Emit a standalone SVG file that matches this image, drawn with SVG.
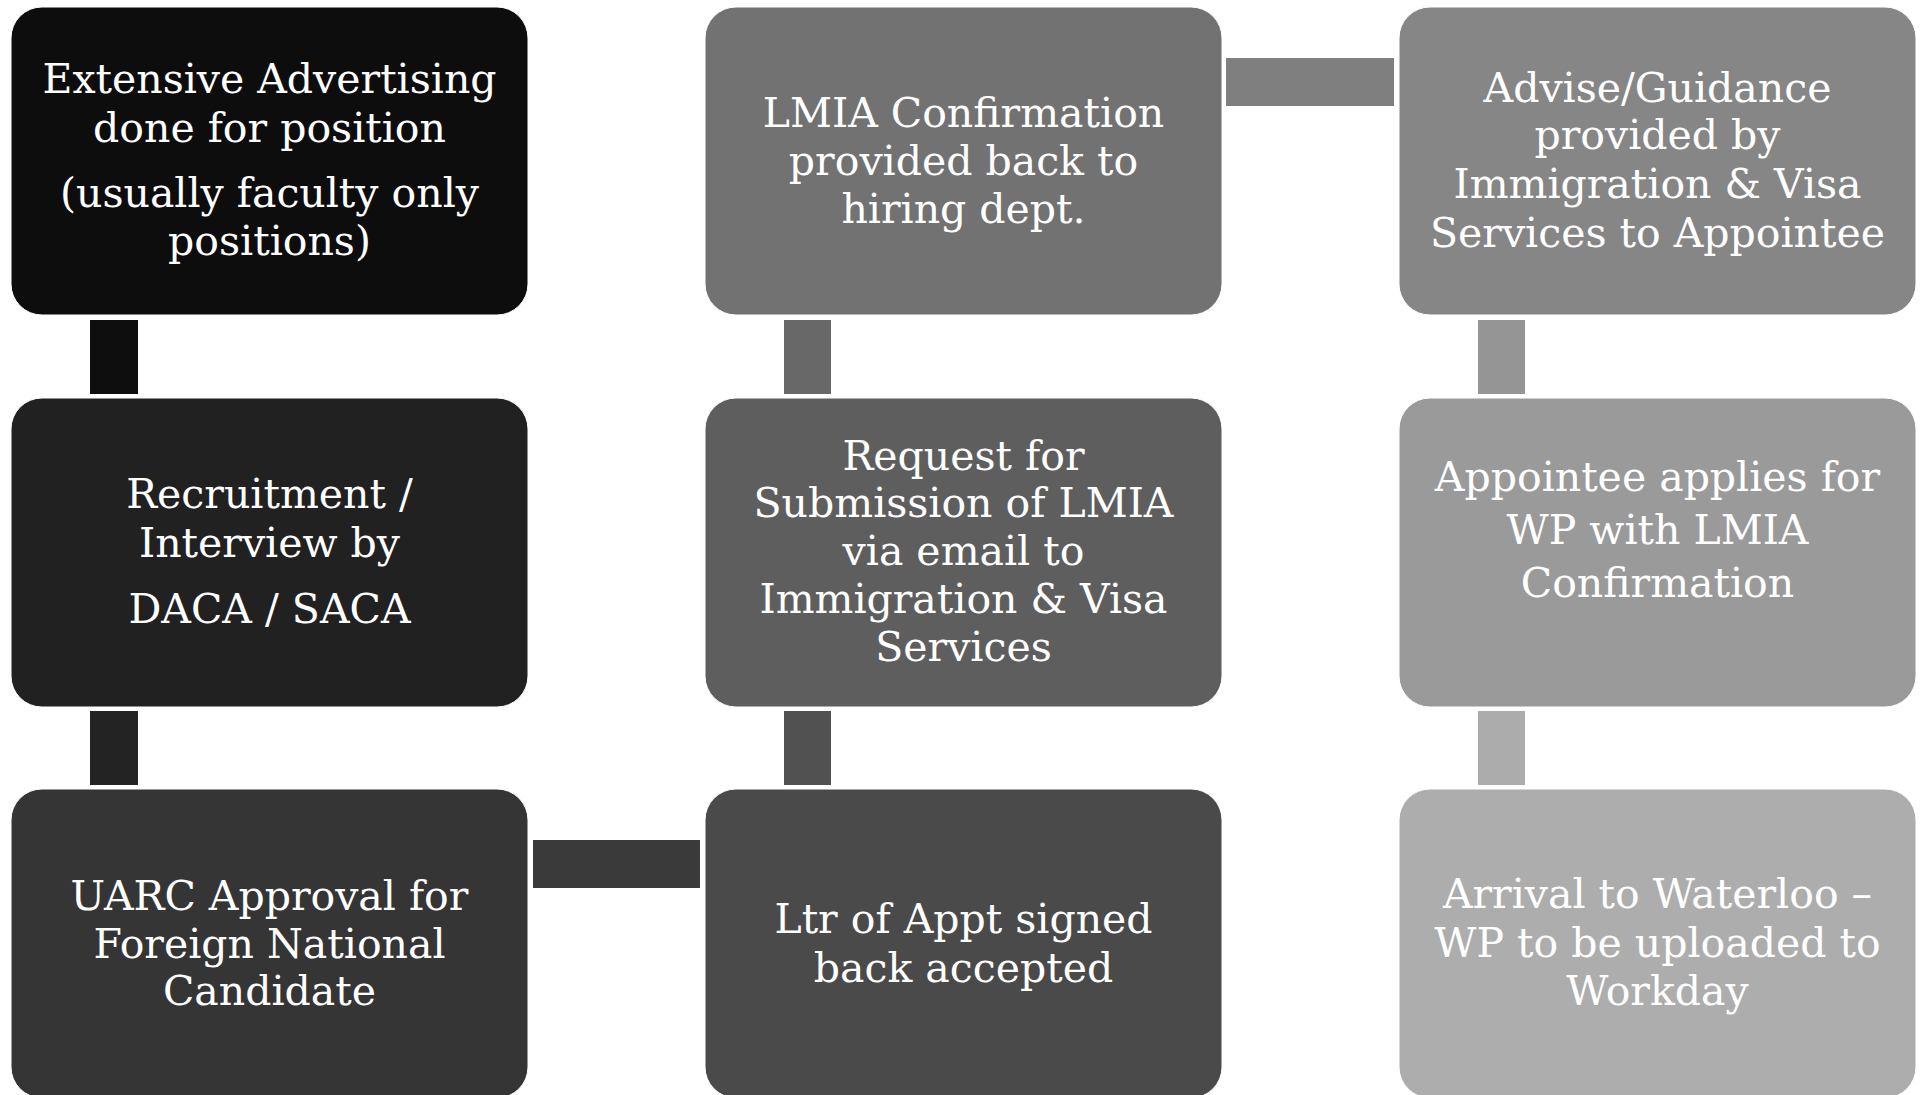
<svg xmlns="http://www.w3.org/2000/svg" width="1923" height="1095" viewBox="0 0 1923 1095">
<style>
.box{stroke:#ffffff;stroke-width:1}
.t{font-family:"DejaVu Serif","Liberation Serif",serif;font-size:41px;fill:#ffffff;text-anchor:middle}
</style>
<rect width="1923" height="1095" fill="#ffffff"/>
<g id="connectors">
<rect x="90" y="320" width="48" height="74" fill="#0e0e0e"/>
<rect x="90" y="711" width="48" height="74" fill="#232323"/>
<rect x="533" y="840" width="167" height="48" fill="#3a3a3a"/>
<rect x="784" y="711" width="47" height="74" fill="#515151"/>
<rect x="784" y="320" width="47" height="74" fill="#686868"/>
<rect x="1226" y="58" width="168" height="48" fill="#7f7f7f"/>
<rect x="1478" y="320" width="47" height="74" fill="#959595"/>
<rect x="1478" y="711" width="47" height="74" fill="#acacac"/>
</g>
<g id="n1">
<rect class="box" x="11" y="7" width="517" height="308" rx="31" fill="#0d0d0d"/>
<text class="t" x="269.5" y="93">Extensive Advertising</text>
<text class="t" x="269.5" y="142">done for position</text>
<text class="t" x="269.5" y="207">(usually faculty only</text>
<text class="t" x="269.5" y="255">positions)</text>
</g>
<g id="n2">
<rect class="box" x="11" y="398" width="517" height="309" rx="31" fill="#212121"/>
<text class="t" x="269.5" y="508">Recruitment /</text>
<text class="t" x="269.5" y="557">Interview by</text>
<text class="t" x="269.5" y="623">DACA / SACA</text>
</g>
<g id="n3">
<rect class="box" x="11" y="789" width="517" height="309" rx="31" fill="#353535"/>
<text class="t" x="269.5" y="910">UARC Approval for</text>
<text class="t" x="269.5" y="958">Foreign National</text>
<text class="t" x="269.5" y="1005">Candidate</text>
</g>
<g id="n4">
<rect class="box" x="705" y="789" width="517" height="309" rx="31" fill="#4a4a4a"/>
<text class="t" x="963.5" y="933">Ltr of Appt signed</text>
<text class="t" x="963.5" y="982">back accepted</text>
</g>
<g id="n5">
<rect class="box" x="705" y="398" width="517" height="309" rx="31" fill="#5e5e5e"/>
<text class="t" x="963.5" y="470">Request for</text>
<text class="t" x="963.5" y="517">Submission of LMIA</text>
<text class="t" x="963.5" y="565">via email to</text>
<text class="t" x="963.5" y="613">Immigration &amp; Visa</text>
<text class="t" x="963.5" y="661">Services</text>
</g>
<g id="n6">
<rect class="box" x="705" y="7" width="517" height="308" rx="31" fill="#727272"/>
<text class="t" x="963.5" y="127">LMIA Confirmation</text>
<text class="t" x="963.5" y="175">provided back to</text>
<text class="t" x="963.5" y="223">hiring dept.</text>
</g>
<g id="n7">
<rect class="box" x="1399" y="7" width="517" height="308" rx="31" fill="#868686"/>
<text class="t" x="1657.5" y="102">Advise/Guidance</text>
<text class="t" x="1657.5" y="149">provided by</text>
<text class="t" x="1657.5" y="198">Immigration &amp; Visa</text>
<text class="t" x="1657.5" y="247">Services to Appointee</text>
</g>
<g id="n8">
<rect class="box" x="1399" y="398" width="517" height="309" rx="31" fill="#9a9a9a"/>
<text class="t" x="1657.5" y="491">Appointee applies for</text>
<text class="t" x="1657.5" y="544">WP with LMIA</text>
<text class="t" x="1657.5" y="597">Confirmation</text>
</g>
<g id="n9">
<rect class="box" x="1399" y="789" width="517" height="309" rx="31" fill="#adadad"/>
<text class="t" x="1657.5" y="908">Arrival to Waterloo –</text>
<text class="t" x="1657.5" y="957">WP to be uploaded to</text>
<text class="t" x="1657.5" y="1005">Workday</text>
</g>
</svg>
